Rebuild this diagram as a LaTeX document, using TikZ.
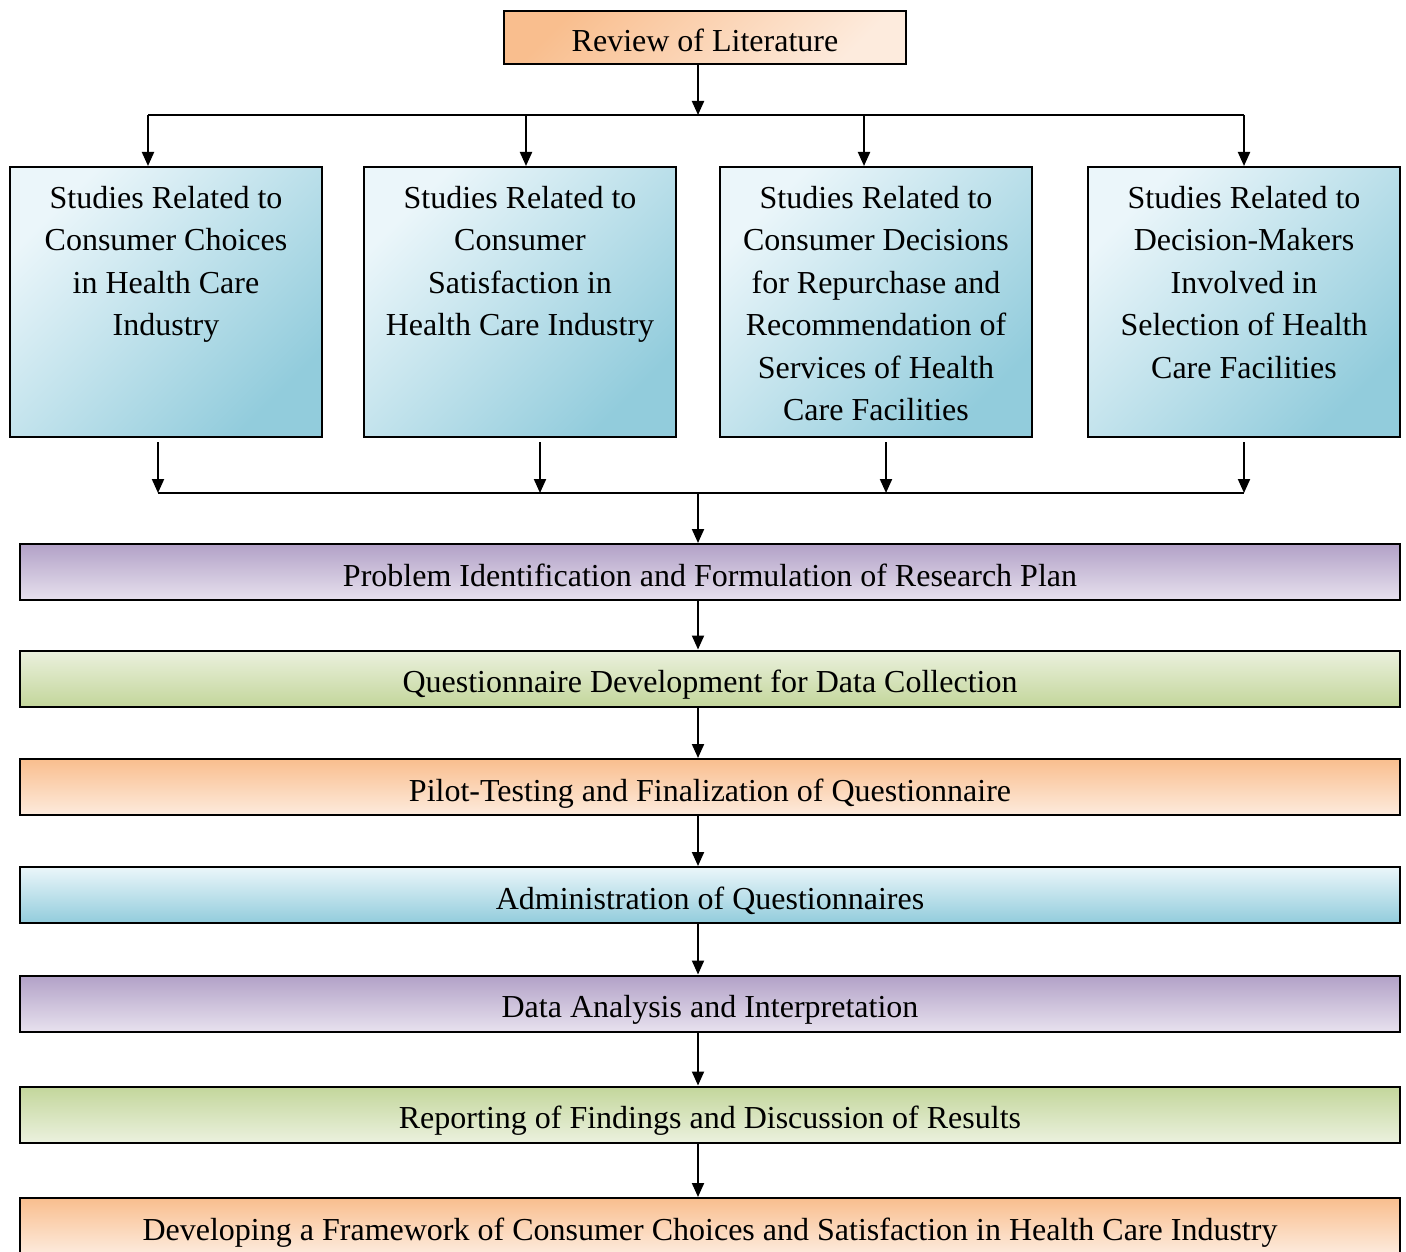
\documentclass[tikz,border=0pt]{standalone}
\usepackage{fontspec}
\setmainfont{Liberation Serif}
\usetikzlibrary{arrows.meta}
\definecolor{orangeDark}{HTML}{F9BE8E}
\definecolor{orangeLight}{HTML}{FDEBDD}
\definecolor{blueLight}{HTML}{EBF6FA}
\definecolor{blueDark}{HTML}{92CCDC}
\definecolor{purpleDark}{HTML}{B2A1C7}
\definecolor{purpleLight}{HTML}{E7E1EE}
\definecolor{greenDark}{HTML}{C3D69B}
\definecolor{greenLight}{HTML}{EBF1DE}
\newcommand{\boxtext}[1]{\parbox[c][135pt][t]{152pt}{\centering\rule{0pt}{20.5pt}#1}}
\tikzset{
  box/.style={draw, line width=1pt, inner sep=0pt, font=\fontsize{16}{21.25}\selectfont},
  oneline/.style={text height=17.5pt, text depth=3.5pt},
  headbox/.style={box, oneline, top color=orangeDark, bottom color=orangeLight, shading angle=45, minimum width=201pt, minimum height=26.5pt},
  studybox/.style={box, top color=blueLight, bottom color=blueDark, shading angle=45, minimum width=156pt, minimum height=135pt},
  stage/.style={box, oneline, minimum width=690pt, minimum height=28pt},
  purplefill/.style={top color=purpleDark, bottom color=purpleLight},
  greenfill/.style={top color=greenDark, bottom color=greenLight},
  greenfillup/.style={top color=greenLight, bottom color=greenDark},
  orangefill/.style={top color=orangeDark, bottom color=orangeLight},
  bluefill/.style={top color=blueLight, bottom color=blueDark},
  flow/.style={line width=1pt, -{Triangle[length=7pt,width=6pt]}},
  link/.style={line width=1pt}
}

\begin{document}
\begin{tikzpicture}[x=0.5pt, y=-0.5pt]
  \useasboundingbox (0,0) rectangle (1406,1251);

  \node[headbox] (review) at (705,37.5) {Review of Literature};

  \node[studybox] (s1) at (166,302) {\boxtext{Studies Related to\\ Consumer Choices\\ in Health Care\\ Industry}};
  \node[studybox] (s2) at (520,302) {\boxtext{Studies Related to\\ Consumer\\ Satisfaction in\\ Health Care Industry}};
  \node[studybox] (s3) at (876,302) {\boxtext{Studies Related to\\ Consumer Decisions\\ for Repurchase and\\ Recommendation of\\ Services of Health\\ Care Facilities}};
  \node[studybox] (s4) at (1244,302) {\boxtext{Studies Related to\\ Decision-Makers\\ Involved in\\ Selection of Health\\ Care Facilities}};

  \coordinate (split) at (698,115);
  \coordinate (merge) at (698,493);

  \node[stage, purplefill] (plan) at (710,572) {Problem Identification and Formulation of Research Plan};
  \node[stage, greenfillup] (quest) at (710,678.5) {Questionnaire Development for Data Collection};
  \node[stage, orangefill] (pilot) at (710,787) {Pilot-Testing and Finalization of Questionnaire};
  \node[stage, bluefill] (admin) at (710,895) {Administration of Questionnaires};
  \node[stage, purplefill] (analysis) at (710,1003.5) {Data Analysis and Interpretation};
  \node[stage, greenfill] (report) at (710,1114.5) {Reporting of Findings and Discussion of Results};
  \node[stage, orangefill] (framework) at (710,1226) {Developing a Framework of Consumer Choices and Satisfaction in Health Care Industry};

  % split to the four studies
  \draw[flow] (review.south -| split) -- (split);
  \draw[link] ([xshift=-9pt]s1.north |- split) -- (s4.north |- split);
  \draw[flow] ([xshift=-9pt]s1.north |- split) -- ([xshift=-9pt]s1.north);
  \draw[flow] ([xshift=3pt]s2.north |- split) -- ([xshift=3pt]s2.north);
  \draw[flow] ([xshift=-6pt]s3.north |- split) -- ([xshift=-6pt]s3.north);
  \draw[flow] (s4.north |- split) -- (s4.north);

  % merge back
  \draw[flow] ([xshift=-4pt,yshift=-2pt]s1.south) -- ([xshift=-4pt]s1.south |- merge);
  \draw[flow] ([xshift=10pt,yshift=-2pt]s2.south) -- ([xshift=10pt]s2.south |- merge);
  \draw[flow] ([xshift=5pt,yshift=-2pt]s3.south) -- ([xshift=5pt]s3.south |- merge);
  \draw[flow] ([yshift=-2pt]s4.south) -- (s4.south |- merge);
  \draw[link] ([xshift=-4pt]s1.south |- merge) -- (s4.south |- merge);
  \draw[flow] (merge) -- (plan.north -| merge);

  % main stages
  \draw[flow] (plan.south -| merge) -- (quest.north -| merge);
  \draw[flow] (quest.south -| merge) -- (pilot.north -| merge);
  \draw[flow] (pilot.south -| merge) -- (admin.north -| merge);
  \draw[flow] (admin.south -| merge) -- (analysis.north -| merge);
  \draw[flow] (analysis.south -| merge) -- (report.north -| merge);
  \draw[flow] (report.south -| merge) -- (framework.north -| merge);
\end{tikzpicture}
\end{document}
